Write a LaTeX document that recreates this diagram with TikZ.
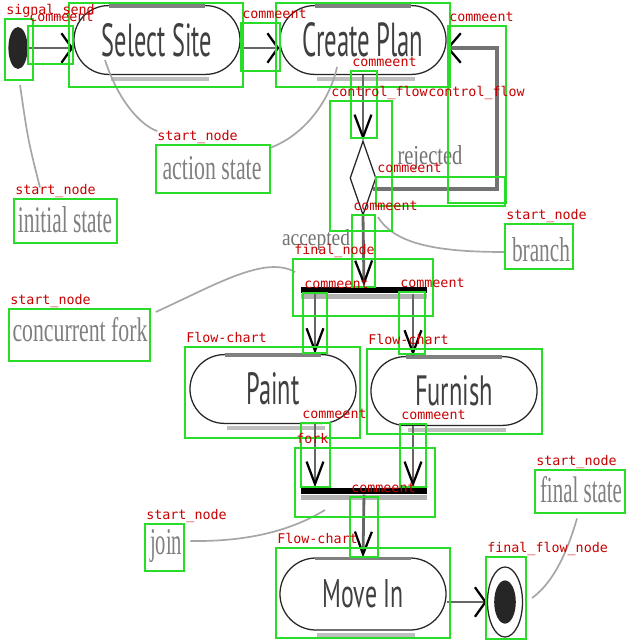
\documentclass[tikz,border=0pt]{standalone}
\usepackage{fontspec}
\usepackage{graphicx}
\usetikzlibrary{calc,shapes.geometric,arrows.meta}
\newfontfamily\actfont{PT Sans}
\newfontfamily\notefont{Liberation Serif}
\newfontfamily\tagfont{DejaVu Sans Mono}
\newlength\unitpx
\setlength\unitpx{0.025cm}
\newcommand{\squeeze}[3]{\resizebox{#1\unitpx}{#2\unitpx}{#3}}
\definecolor{boxgreen}{RGB}{40,220,40}
\definecolor{tagred}{RGB}{200,0,0}
\tikzset{
  activity/.style={rectangle, rounded corners=0.86cm, draw=black!85, line width=0.9pt,
    inner sep=0pt, minimum width=4.15cm, minimum height=1.72cm, font=\actfont, text=black!75},
  initial/.style={ellipse, fill=black!85, inner sep=0pt, minimum width=0.48cm, minimum height=1.05cm},
  finalnode/.style={ellipse, draw=black!85, line width=0.9pt, inner sep=0pt,
    minimum width=0.875cm, minimum height=1.75cm},
  branchnode/.style={diamond, draw=black!85, line width=0.9pt, inner sep=0pt, aspect=0.35,
    minimum width=0.65cm, minimum height=1.85cm},
  bar/.style={rectangle, fill=black, inner sep=0pt, minimum width=3.125cm, minimum height=0.17cm},
  note/.style={inner sep=0pt, font=\notefont, text=black!50},
  noteline/.style={draw=black!35, line width=1.2pt},
  harrow/.style={draw=black!60, line width=2pt,
    -{Straight Barb[color=black, length=7.5pt, width=21pt, line width=1.6pt]}},
  varrow/.style={draw=black!60, line width=2pt,
    -{Straight Barb[color=black, length=16pt, width=12pt, line width=1.6pt]}},
  looparrow/.style={draw=black!55, line width=2.6pt,
    -{Straight Barb[color=black, length=9pt, width=21pt, line width=1.6pt]}},
  annot/.style={draw=boxgreen, line width=1.8pt},
  tag/.style={anchor=base west, inner sep=0pt, text=tagred,
    font=\tagfont\fontsize{9.5}{10}\selectfont}
}
\begin{document}
\begin{tikzpicture}[x=0.025cm,y=-0.025cm]
  \fill[white] (0,0) rectangle (640,640);
  \useasboundingbox (0,0) rectangle (640,640);
  % activity diagram
  \node[initial] (init) at (18,48) {};
  \node[activity] (select) at (157,40) {\squeeze{110}{33}{Select Site}};
  \node[activity] (plan) at (363,40) {\squeeze{121}{34}{Create Plan}};
  \node[branchnode] (dec) at (363,178) {};
  \node[bar] (forkbar) at (364,290) {};
  \node[activity] (paint) at (273,389) {\squeeze{53}{32}{Paint}};
  \node[activity] (furnish) at (454,391) {\squeeze{78}{30}{Furnish}};
  \node[bar] (joinbar) at (364,491) {};
  \node[activity, minimum height=1.8cm, rounded corners=0.9cm] (movein) at (363,594) {\squeeze{81}{28}{Move In}};
  \node[finalnode] (final) at (505,602) {};
  \fill[black!85] (final.center) ellipse [x radius=0.27cm, y radius=0.54cm];
  \foreach \n in {select,plan,paint,furnish,movein} {
    \draw[black!50, line width=2.4pt] ($(\n.north)+(-48,1)$) -- ($(\n.north)+(48,1)$);
    \draw[black!25, line width=3pt] ($(\n.south)+(-46,4)$) -- ($(\n.south)+(52,4)$);
  }
  \foreach \n in {forkbar,joinbar}
    \fill[black!30] (\n.south west) rectangle ($(\n.south east)+(0,5)$);
  % flows
  \coordinate (pl) at (315,0);
  \coordinate (fr) at (413,0);
  \coordinate (lp) at (497,48);
  \draw[harrow] (init.east) -- (select.west |- init.east);
  \draw[harrow] (select.east |- init.east) -- (plan.west |- init.east);
  \draw[varrow] (plan.south) -- (dec.north);
  \draw[looparrow] ($(dec.east)!0.3!(dec.south)$) -| (lp) -- (plan.east |- lp);
  \draw[varrow] (dec.south) -- (forkbar.north);
  \draw[varrow] (forkbar.south -| pl) -- (paint.north -| pl);
  \draw[varrow] (forkbar.south -| fr) -- (furnish.north -| fr);
  \draw[varrow] (paint.south -| pl) -- (joinbar.north -| pl);
  \draw[varrow] (furnish.south -| fr) -- (joinbar.north -| fr);
  \draw[varrow] (joinbar.south) -- (movein.north);
  \draw[harrow] (movein.east |- final.west) -- (final.west);
  % notes
  \node[note] (ninit) at (65,220) {\squeeze{94}{26}{initial state}};
  \node[note] (naction) at (212,168) {\squeeze{99}{23}{action state}};
  \node[note] (nbranch) at (541,250) {\squeeze{58}{24}{branch}};
  \node[note] (nfork) at (80,330) {\squeeze{135}{24}{concurrent fork}};
  \node[note] (njoin) at (166,546) {\squeeze{32}{25}{join}};
  \node[note] (nfinal) at (581,490) {\squeeze{82}{26}{final state}};
  \node[note, text=black!55] (nrej) at (430,158) {\squeeze{65}{19}{rejected}};
  \node[note, text=black!55] (nacc) at (316,240) {\squeeze{68}{16}{accepted}};
  \coordinate (tinit) at (20,85);
  \coordinate (tselect) at (105,60);
  \coordinate (tplan) at (337,67);
  \coordinate (tdec) at (378,217);
  \coordinate (tfork) at (295,272);
  \coordinate (tjoin) at (325,510);
  \coordinate (tfinal) at (532,598);
  \draw[noteline] (tinit) .. controls (28,140) .. ($(ninit.north)+(-25,-19)$);
  \draw[noteline] (tselect) .. controls (118,100) and (140,125) .. ($(naction.north west)+(-5,-25)$);
  \draw[noteline] ($(naction.east)+(8,-20)$) .. controls (305,135) and (330,100) .. (tplan);
  \draw[noteline] (tdec) .. controls (395,245) and (440,252) .. ($(nbranch.west)+(-7,2)$);
  \draw[noteline] ($(nfork.east)+(8,-18)$) .. controls (215,285) and (265,255) .. (tfork);
  \draw[noteline] ($(njoin.east)+(8,-5)$) .. controls (260,542) and (300,525) .. (tjoin);
  \draw[noteline] ($(nfinal.south)+(-4,15)$) .. controls (565,560) and (550,585) .. (tfinal);
  % annotation boxes
  \draw[annot] (69,3) rectangle (243,87);
  \draw[annot] (276,3) rectangle (450,87);
  \foreach \xa/\ya/\xb/\yb/\tg [count=\i] in {5/19/33/80/signal\_send, 28/26/73/64/commeent,
      241/23/280/71/commeent, 448/26/506/203/commeent, 351/71/377/138/commeent,
      330/101/392/231/control\_flow, 376/177/505/206/commeent, 352/215/375/287/commeent,
      293/259/433/316/final\_node, 303/293/327/353/commeent, 399/292/425/354/commeent,
      185/347/360/438/Flow-chart, 367/349/542/434/Flow-chart, 301/423/330/487/commeent,
      400/424/426/487/commeent, 295/448/435/517/fork, 350/497/378/557/commeent,
      276/548/450/638/Flow-chart, 486/557/526/639/final\_flow\_node, 535/470/625/513/start\_node,
      145/524/184/571/start\_node, 9/309/150/361/start\_node, 505/224/573/269/start\_node,
      156/145/270/193/start\_node, 14/199/117/243/start\_node} {
    \draw[annot] (\xa,\ya) rectangle (\xb,\yb);
    \node[tag] (tag\i) at (\xa+1,\ya-5) {\tg};
  }
  \node[tag] (tagcf) at (428,96) {control\_flow};
\end{tikzpicture}
\end{document}
